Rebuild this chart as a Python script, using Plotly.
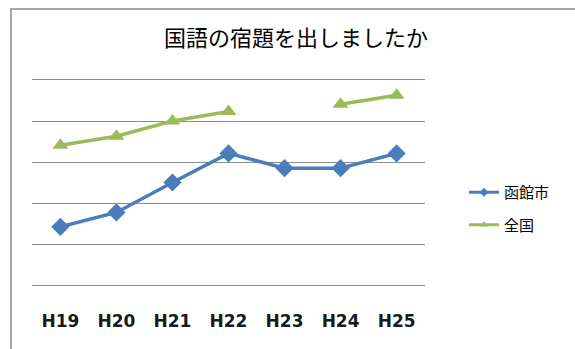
import plotly.graph_objects as go

# Survey years and response rates (%)
years = ["H19", "H20", "H21", "H22", "H23", "H24", "H25"]
hakodate = [28.4, 35.4, 50.0, 64.2, 57.0, 57.0, 64.2]
national = [68.2, 72.6, 80.0, 84.6, None, 88.2, 92.6]

BLUE = "#4A7EBB"
GREEN = "#9BBB59"
GRID = "#8C8C8C"

W, H = 575, 349
L, R, T, B = 32, 150, 80, 64
pw, ph = W - L - R, H - T - B

def px_x(px):
    return (px - L) / pw

def px_y(py):
    return (H - B - py) / ph

fig = go.Figure()
series = [
    ("函館市", hakodate, BLUE, "diamond"),
    ("全国", national, GREEN, "triangle-up"),
]
for i, (name, vals, color, sym) in enumerate(series):
    fig.add_trace(go.Scatter(
        x=years, y=vals, name=name, mode="lines+markers",
        connectgaps=False, showlegend=False,
        line=dict(color=color, width=3.5),
        marker=dict(symbol=sym, size=14, color=color),
    ))
    # legend entry with a smaller key marker
    fig.add_trace(go.Scatter(
        x=[years[0]], y=[None], name=name, mode="lines+markers",
        legendgroup=f"g{i}", showlegend=True,
        line=dict(color=color, width=3),
        marker=dict(symbol=sym, size=7, color=color),
    ))

# chart frame
fig.add_shape(type="rect", xref="paper", yref="paper",
              x0=px_x(11), x1=px_x(590), y0=px_y(360), y1=px_y(9),
              line=dict(color="#A6A6A6", width=2), fillcolor="rgba(0,0,0,0)",
              layer="below")

fig.update_layout(
    width=W, height=H,
    margin=dict(l=L, r=R, t=T, b=B, pad=0),
    paper_bgcolor="white", plot_bgcolor="white",
    font=dict(family="Noto Sans CJK JP", color="#000000"),
    title=dict(text="国語の宿題を出しましたか", x=px_x(296), xref="paper",
               xanchor="center", y=1 - 38 / H, yref="container",
               yanchor="middle",
               font=dict(family="Noto Sans CJK JP", size=22, color="#000000")),
    xaxis=dict(showgrid=False, showline=True, mirror=True, linecolor=GRID,
               linewidth=1, zeroline=False, ticks="",
               tickfont=dict(family="DejaVu Sans", size=17, color="#1a1a1a",
                             weight="bold"),
               ticklabelstandoff=21),
    yaxis=dict(range=[0, 100], dtick=20, showgrid=True, gridcolor=GRID,
               gridwidth=1, zeroline=False, showline=False,
               showticklabels=False, ticks=""),
    legend=dict(x=px_x(464), y=px_y(176), xanchor="left", yanchor="top",
                font=dict(family="Noto Sans CJK JP", size=15, color="#000000"),
                tracegroupgap=10,
                bgcolor="rgba(0,0,0,0)"),
    showlegend=True,
)

fig.write_html("out.html")
